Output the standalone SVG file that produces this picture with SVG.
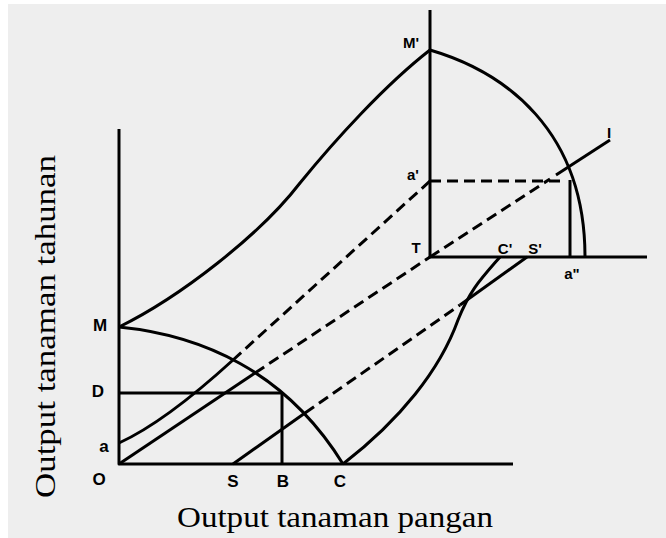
<svg xmlns="http://www.w3.org/2000/svg" width="666" height="538" viewBox="0 0 666 538">
<style>
.ln{fill:none;stroke:#000;stroke-width:3;stroke-linejoin:round}
.ds{fill:none;stroke:#000;stroke-width:3;stroke-dasharray:11 6}
.lb{font-family:"Liberation Sans",Arial,sans-serif;font-weight:bold;font-size:17px;fill:#000;text-anchor:middle}
.ls{font-family:"Liberation Sans",Arial,sans-serif;font-weight:bold;font-size:15px;fill:#000;text-anchor:middle}
.ax{font-family:"Liberation Serif","Times New Roman",serif;font-size:29px;fill:#000}
</style>
<rect x="0" y="0" width="666" height="538" fill="#fff"/>
<rect x="8" y="4" width="658" height="534" fill="#eeeeee"/>
<g id="axes">
<path class="ln" d="M119,129 V464 H513"/>
<path class="ln" d="M430,10 V257 H647"/>
</g>
<g id="connectors">
<path class="ln" d="M119,327 C200,335 285,370 343,464"/>
<path class="ln" d="M119,327 C180,297 260,235 300,183 C335,140 385,85 430,50"/>
<path class="ln" d="M430,50 C505,72 585,130 585,257"/>
<path class="ln" d="M119,393 H282 V464"/>
<path class="ln" d="M119,443 Q165,422 233,360"/>
<path class="ds" d="M233,360 L430,181"/>
<path class="ln" d="M119,464 L255,373"/>
<path class="ds" d="M255,373 L430,257"/>
<path class="ln" d="M233,464 L305,413"/>
<path class="ds" d="M305,413 L460,305"/>
<path class="ln" d="M460,305 L527,257"/>
<path class="ln" d="M343,464 C400,420 440,370 458,320 C470,290 480,280 500,257"/>
<path class="ds" d="M430,257 L550,179"/>
<path class="ln" d="M556,175 L610,140"/>
<path class="ds" d="M430,181 H565"/>
<path class="ln" d="M570,180 V257"/>
</g>
<g id="labels">
<text class="lb" x="100" y="331">M</text>
<text class="lb" x="98" y="397">D</text>
<text class="lb" x="104" y="452">a</text>
<text class="lb" x="99" y="485">O</text>
<text class="lb" x="233" y="487">S</text>
<text class="lb" x="283" y="487">B</text>
<text class="lb" x="340" y="487">C</text>
<text class="ls" x="411" y="48">M'</text>
<text class="ls" x="413" y="180">a'</text>
<text class="ls" x="416" y="253">T</text>
<text class="ls" x="505" y="254">C'</text>
<text class="ls" x="535" y="254">S'</text>
<text class="ls" x="572" y="279">a"</text>
<text class="ls" x="609" y="138">I</text>
</g>
<g id="titles">
<text class="ax" x="177" y="527" textLength="316" lengthAdjust="spacingAndGlyphs">Output tanaman pangan</text>
<text class="ax" transform="translate(55,498) rotate(-90)" x="0" y="0" textLength="343" lengthAdjust="spacingAndGlyphs">Output tanaman tahunan</text>
</g>
</svg>
